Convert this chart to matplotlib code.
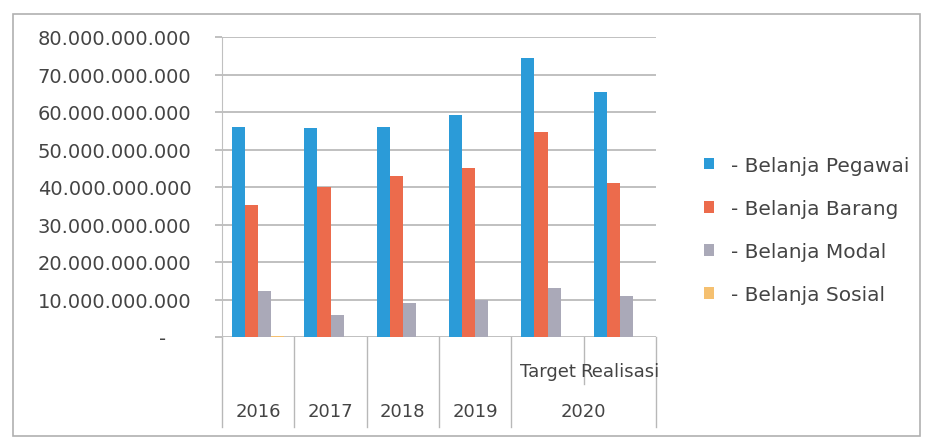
import matplotlib.pyplot as plt
import numpy as np
from matplotlib.patches import Rectangle
from matplotlib.ticker import FuncFormatter

# belanja per tahun (rupiah)
categories = ['2016', '2017', '2018', '2019', 'Target', 'Realisasi']
years = ['2016', '2017', '2018', '2019', '2020']
pegawai = [56.0e9, 55.8e9, 56.0e9, 59.3e9, 74.3e9, 65.3e9]
barang = [35.3e9, 40.0e9, 43.0e9, 45.2e9, 54.6e9, 41.0e9]
modal = [12.3e9, 6.0e9, 9.2e9, 10.0e9, 13.2e9, 11.0e9]
sosial = [0.15e9, 0.1e9, 0.1e9, 0.1e9, 0.1e9, 0.1e9]

series = [pegawai, barang, modal, sosial]
labels = ['- Belanja Pegawai', '- Belanja Barang', '- Belanja Modal', '- Belanja Sosial']
colors = ['#2b9bd8', '#ec6b4c', '#aaa9b8', '#f5c070']

fig = plt.figure(figsize=(9.25, 4.39), dpi=100)
ax = fig.add_axes([222/925, 1-338/439, (656-222)/925, 300/439])

x = np.arange(len(categories)) + 0.5
w = 0.18
handles = []
for k, vals in enumerate(series):
    b = ax.bar(x + (k - 1.5)*w, vals, w, color=colors[k], label=labels[k], zorder=3)
    handles.append(b)

ax.set_xlim(0, len(categories))
ax.set_ylim(0, 80e9)
ax.set_yticks(np.arange(0, 80e9 + 1, 10e9))
ax.yaxis.set_major_formatter(FuncFormatter(
    lambda v, p: '-    ' if v == 0 else f'{v:,.0f}'.replace(',', '.')))
ax.grid(axis='y', color='#b5b5b5', lw=1.2, zorder=0)
ax.tick_params(axis='y', length=5, color='#b5b5b5', width=1.2, pad=17,
               labelsize=14, labelcolor='#444444')
ax.set_xticks([])
for s in ['top', 'right', 'bottom']:
    ax.spines[s].set_visible(False)
ax.spines['left'].set_color('#c0c0c0')

# two-level category axis
sep = '#b8b8b8'
for xv in [0, 1, 2, 3, 4, 6]:
    ax.plot([xv, xv], [0, -0.30], transform=ax.get_xaxis_transform(),
            color=sep, lw=1, clip_on=False)
ax.plot([5, 5], [0, -0.155], transform=ax.get_xaxis_transform(),
        color=sep, lw=1, clip_on=False)
for xv, t in zip([4.5, 5.5], categories[4:]):
    ax.text(xv, -0.113, t, transform=ax.get_xaxis_transform(), ha='center',
            va='center', fontsize=13, color='#444444')
for xv, t in zip([0.5, 1.5, 2.5, 3.5, 5.0], years):
    ax.text(xv, -0.247, t, transform=ax.get_xaxis_transform(), ha='center',
            va='center', fontsize=13, color='#444444')

fig.legend(handles=handles, loc='center left', bbox_to_anchor=(686/925, 1-231/439),
           frameon=False, fontsize=14.5, labelcolor='#444444', handlelength=0.5,
           handleheight=0.5, handletextpad=0.85, labelspacing=1.2)

fig.patches.append(Rectangle((13/925, 1-437/439), 907/925, 422/439,
                             transform=fig.transFigure, fill=False,
                             edgecolor='#b0b0b0', lw=1.2))

fig.savefig('out.png', dpi=100, facecolor='white')
